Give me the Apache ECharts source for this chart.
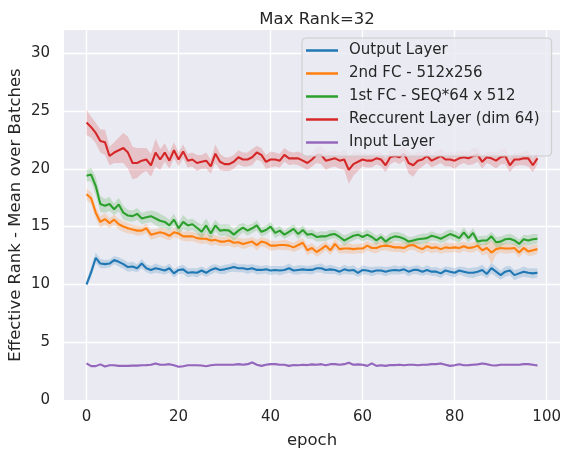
<!DOCTYPE html>
<html>
<head>
<meta charset="utf-8">
<script src="https://cdn.jsdelivr.net/npm/echarts@6/dist/echarts.min.js"></script>
<style>
  html, body { margin: 0; padding: 0; background: #fff; }
  #chart { width: 570px; height: 458px; }
</style>
</head>
<body>
<div id="chart"></div>
<script>
const epochs = [0,1,2,3,4,5,6,7,8,9,10,11,12,13,14,15,16,17,18,19,20,21,22,23,24,25,26,27,28,29,
  30,31,32,33,34,35,36,37,38,39,40,41,42,43,44,45,46,47,48,49,50,51,52,53,54,55,56,57,58,59,
  60,61,62,63,64,65,66,67,68,69,70,71,72,73,74,75,76,77,78,79,80,81,82,83,84,85,86,87,88,89,
  90,91,92,93,94,95,96,97,98];

// mean values per epoch
const outputMean = [10.0,11.05,12.3,11.8,11.75,11.8,12.1,11.95,11.75,11.5,
  11.55,11.4,11.8,11.4,11.25,11.4,11.3,11.2,11.4,10.95,
  11.25,11.3,11.0,11.05,11.0,11.2,11.0,11.25,11.4,11.25,
  11.3,11.4,11.5,11.4,11.4,11.3,11.4,11.25,11.25,11.3,
  11.2,11.25,11.2,11.25,11.4,11.2,11.25,11.3,11.25,11.25,
  11.4,11.4,11.25,11.3,11.25,11.1,11.3,11.2,11.25,11.0,
  11.25,11.2,11.1,11.2,11.2,11.1,11.2,11.25,11.2,11.3,
  11.1,11.25,11.25,11.1,11.25,11.1,11.1,10.95,11.2,11.1,
  11.0,11.2,11.1,11.0,11.0,11.1,11.25,10.9,11.4,11.1,
  10.8,11.1,11.2,10.8,10.95,11.1,11.0,10.95,11.0];
const fc2Mean = [17.8,17.45,16.2,15.4,15.65,15.3,15.6,15.2,15.0,14.85,
  14.75,14.65,14.65,14.85,14.3,14.4,14.5,14.4,14.2,14.5,
  14.4,14.15,14.15,14.15,14.0,13.95,13.95,13.8,13.85,13.7,
  13.7,13.8,13.6,13.65,13.5,13.6,13.7,13.4,13.7,13.6,
  13.35,13.35,13.4,13.4,13.35,13.2,13.4,13.6,12.95,13.15,
  12.8,13.05,13.35,12.95,13.5,13.05,13.1,13.1,13.05,13.1,
  13.1,13.35,13.15,13.15,13.3,13.35,13.3,13.2,13.2,13.15,
  13.35,13.4,13.2,13.05,13.3,13.15,13.2,13.05,13.2,13.15,
  13.2,13.15,13.3,13.15,13.2,13.35,12.95,13.15,12.75,13.05,
  13.15,13.1,13.1,13.15,12.75,13.15,12.85,12.95,13.05];
const fc1Mean = [19.4,19.5,18.5,16.95,16.8,16.95,16.5,16.9,16.2,15.95,
  15.9,16.1,15.7,15.8,15.9,15.7,15.5,15.4,15.1,15.6,
  14.85,15.4,15.1,15.2,14.9,14.55,15.1,14.4,15.1,14.65,
  14.7,14.65,14.3,14.65,14.9,14.65,14.85,15.1,14.55,14.7,
  15.0,14.45,14.65,14.3,14.55,14.8,14.35,14.7,14.3,14.35,
  14.1,14.15,14.15,14.3,14.35,14.1,13.8,14.0,14.2,14.3,
  14.1,14.3,14.1,13.8,14.1,13.7,14.0,14.15,14.1,13.95,
  13.7,13.8,13.9,13.95,14.0,14.2,14.1,13.95,14.15,14.35,
  14.2,14.0,14.5,14.0,14.45,13.7,13.8,13.8,14.15,13.65,
  13.7,13.9,13.95,13.8,13.5,13.9,13.8,13.9,13.95];
const recMean = [24.0,23.6,23.1,22.4,22.3,21.1,21.4,21.6,21.8,21.4,
  20.5,20.5,20.7,20.8,20.3,21.4,20.8,21.4,20.7,21.6,
  20.8,21.5,20.7,20.8,20.5,20.6,20.7,20.2,21.3,20.6,
  20.4,20.4,20.6,21.0,20.8,20.8,21.0,21.4,21.2,20.6,
  20.8,20.8,20.7,21.2,20.9,20.9,20.9,20.7,20.5,20.8,
  21.2,21.2,20.7,20.8,20.9,20.7,20.8,19.9,20.4,20.6,
  20.8,20.7,20.7,20.9,20.8,20.3,21.0,21.1,21.0,21.3,
  20.5,20.3,20.7,20.8,21.1,20.7,20.9,21.1,20.8,20.8,
  20.7,20.9,21.0,20.9,21.1,21.2,20.6,21.0,20.9,20.7,
  21.0,21.1,20.3,20.8,20.8,20.9,20.9,20.3,20.9];
const inputMean = [3.17,2.93,2.93,3.08,2.9,3.0,3.0,2.95,2.95,2.95,
  2.97,2.97,3.0,3.02,3.05,3.15,3.05,3.05,3.1,3.0,
  2.87,2.92,3.0,3.0,3.0,2.98,2.92,3.0,3.05,3.05,
  3.05,3.05,3.05,3.1,3.05,3.1,3.25,3.05,2.95,3.05,
  3.1,3.1,3.05,3.05,2.95,3.02,3.0,3.05,3.02,3.08,
  3.05,3.1,3.0,3.1,3.1,3.05,3.1,3.22,3.05,3.08,
  3.05,2.95,3.17,2.95,3.0,2.95,3.02,3.02,3.05,3.0,
  3.05,3.05,3.0,3.05,3.05,3.1,3.1,3.15,3.05,2.95,
  3.0,3.1,3.0,3.02,3.05,3.08,3.15,3.1,3.0,2.98,
  3.05,3.05,3.05,3.05,3.05,3.1,3.1,3.05,2.98];

// half width of the confidence band per epoch
const outputBand = [0.25,0.45,0.45,0.4,0.35,0.35,0.35,0.4,0.4,0.4,
  0.4,0.35,0.4,0.35,0.35,0.4,0.35,0.35,0.4,0.35,
  0.35,0.4,0.4,0.35,0.4,0.35,0.35,0.4,0.35,0.35,
  0.4,0.35,0.4,0.35,0.35,0.4,0.35,0.4,0.35,0.35,
  0.4,0.35,0.4,0.35,0.4,0.35,0.4,0.35,0.35,0.4,
  0.35,0.4,0.35,0.4,0.35,0.35,0.4,0.35,0.4,0.35,
  0.4,0.35,0.4,0.35,0.35,0.4,0.35,0.4,0.35,0.35,
  0.4,0.35,0.4,0.35,0.4,0.35,0.4,0.4,0.35,0.4,
  0.4,0.35,0.4,0.4,0.45,0.4,0.45,0.4,0.45,0.45,
  0.4,0.45,0.4,0.45,0.4,0.45,0.4,0.45,0.4];
const fc2Band = [0.5,0.5,0.5,0.5,0.5,0.45,0.45,0.45,0.45,0.45,
  0.4,0.45,0.4,0.4,0.45,0.4,0.4,0.45,0.4,0.4,
  0.45,0.4,0.45,0.4,0.4,0.45,0.4,0.45,0.4,0.4,
  0.4,0.45,0.4,0.4,0.45,0.4,0.4,0.45,0.4,0.4,
  0.45,0.4,0.4,0.45,0.4,0.4,0.45,0.4,0.45,0.4,
  0.4,0.45,0.4,0.4,0.45,0.4,0.4,0.45,0.4,0.4,
  0.45,0.4,0.4,0.45,0.4,0.4,0.45,0.4,0.4,0.45,
  0.4,0.4,0.45,0.4,0.4,0.45,0.4,0.4,0.45,0.4,
  0.4,0.45,0.4,0.4,0.45,0.4,0.45,0.5,1.0,0.5,
  0.4,0.45,0.4,0.4,0.45,0.4,0.4,0.45,0.4];
const fc1Band = [0.5,0.6,0.8,0.7,0.6,0.6,0.5,0.6,0.6,0.5,
  0.5,0.5,0.5,0.5,0.5,0.6,0.6,0.5,0.5,0.5,
  0.5,0.6,0.5,0.5,0.5,0.6,0.6,0.6,0.5,0.5,
  0.5,0.5,0.5,0.5,0.4,0.45,0.4,0.45,0.4,0.4,
  0.4,0.45,0.4,0.35,0.4,0.4,0.45,0.4,0.35,0.4,
  0.4,0.45,0.4,0.4,0.35,0.4,0.45,0.4,0.4,0.35,
  0.4,0.45,0.4,0.4,0.35,0.4,0.45,0.4,0.4,0.4,
  0.4,0.35,0.4,0.45,0.4,0.4,0.35,0.4,0.45,0.4,
  0.45,0.4,0.45,0.4,0.4,0.45,0.4,0.4,0.4,0.45,
  0.45,0.4,0.45,0.4,0.4,0.4,0.45,0.45,0.4];
const recBand = [1.1,0.9,0.9,1.0,1.1,0.8,0.9,1.1,1.3,1.4,
  1.4,1.3,1.1,1.0,1.0,1.2,0.9,0.8,0.7,0.7,
  0.6,0.6,0.6,0.6,0.7,0.6,0.7,0.6,0.8,0.7,
  0.6,0.6,0.6,0.6,0.6,0.6,0.7,0.6,0.6,0.6,
  0.7,0.6,0.6,0.6,0.6,0.5,0.6,0.6,0.6,0.6,
  0.7,0.8,0.8,0.7,0.7,0.7,0.9,1.2,1.0,0.8,
  0.6,0.6,0.6,0.5,0.6,0.6,0.6,0.5,0.6,0.6,
  0.9,1.0,0.8,0.6,0.6,0.6,0.6,0.6,0.6,0.6,
  0.7,0.6,0.5,0.6,0.7,0.6,0.6,0.5,0.6,0.7,
  0.6,0.7,0.6,0.6,0.5,0.6,0.7,0.6,0.5];
const inputBand = [0.08,0.08,0.07,0.08,0.08,0.07,0.08,0.08,0.08,0.07,
  0.08,0.08,0.07,0.08,0.08,0.1,0.08,0.08,0.08,0.07,
  0.08,0.08,0.07,0.08,0.08,0.08,0.07,0.08,0.08,0.08,
  0.08,0.08,0.08,0.1,0.08,0.1,0.12,0.08,0.08,0.08,
  0.08,0.08,0.07,0.08,0.08,0.08,0.08,0.07,0.08,0.08,
  0.08,0.08,0.08,0.08,0.08,0.07,0.08,0.1,0.08,0.08,
  0.08,0.08,0.1,0.08,0.08,0.07,0.08,0.08,0.08,0.08,
  0.08,0.08,0.07,0.08,0.08,0.08,0.08,0.1,0.08,0.08,
  0.08,0.08,0.07,0.08,0.08,0.08,0.1,0.08,0.08,0.08,
  0.08,0.08,0.08,0.08,0.07,0.08,0.08,0.08,0.08];

const seriesNames = ["Output Layer", "2nd FC - 512x256", "1st FC - SEQ*64 x 512", "Reccurent Layer (dim 64)", "Input Layer"];
const seriesColors = ["#1f77b4", "#ff7f0e", "#2ca02c", "#d62728", "#9467bd"];
const yTicks = [0, 5, 10, 15, 20, 25, 30];

const FONT = "DejaVu Sans";
const TEXT = "#262626";

function layerSeries(idx, mean, band) {
  const name = seriesNames[idx];
  const color = seriesColors[idx];
  return [
    {
      // confidence band drawn as one polygon through the axis scales
      name: name + " ci",
      type: "custom",
      silent: true,
      z: 2,
      data: [[epochs[0], mean[0]]],
      renderItem: (params, api) => {
        const pts = [];
        for (let i = 0; i < epochs.length; i++) {
          pts.push(api.coord([epochs[i], mean[i] + band[i]]));
        }
        for (let i = epochs.length - 1; i >= 0; i--) {
          pts.push(api.coord([epochs[i], mean[i] - band[i]]));
        }
        return {
          type: "polygon",
          shape: { points: pts },
          style: { fill: color, opacity: 0.2 },
        };
      },
    },
    {
      name: name,
      type: "line",
      data: epochs.map((e, i) => [e, mean[i]]),
      showSymbol: false,
      itemStyle: { color: color },
      lineStyle: { color: color, width: 2.1 },
      z: 3,
    },
  ];
}

const chart = echarts.init(document.getElementById("chart"), null, { renderer: "canvas" });

const option = {
  animation: false,
  backgroundColor: "#ffffff",
  textStyle: { fontFamily: FONT },
  title: {
    text: "Max Rank=32",
    left: 312,
    top: 6,
    textAlign: "center",
    textStyle: { fontFamily: FONT, fontSize: 16.5, fontWeight: "normal", color: TEXT },
  },
  grid: {
    left: 64,
    right: 10,
    top: 30,
    bottom: 58,
    containLabel: false,
    outerBoundsMode: "none",
    show: true,
    backgroundColor: "#eaeaf2",
    borderWidth: 0,
  },
  legend: {
    data: seriesNames,
    orient: "vertical",
    left: 302,
    top: 38,
    icon: "rect",
    itemWidth: 32,
    itemHeight: 2.5,
    itemGap: 8,
    padding: [5, 12, 6, 4],
    backgroundColor: "rgba(234,234,242,0.8)",
    borderColor: "#cccccc",
    borderWidth: 1,
    borderRadius: 4,
    textStyle: { fontFamily: FONT, fontSize: 15, color: TEXT, padding: [0, 0, 0, 6] },
  },
  xAxis: {
    type: "value",
    min: -4.9,
    max: 102.9,
    name: "epoch",
    nameLocation: "middle",
    nameGap: 32,
    nameMoveOverlap: false,
    nameTextStyle: { fontFamily: FONT, fontSize: 16.5, color: TEXT },
    axisLine: { show: false },
    axisTick: { show: false },
    axisLabel: { fontFamily: FONT, fontSize: 15, color: TEXT, margin: 10, showMinLabel: false, showMaxLabel: false },
    splitLine: { show: true, showMinLine: false, showMaxLine: false, lineStyle: { color: "#ffffff", width: 1.3 } },
  },
  yAxis: {
    type: "value",
    min: 0,
    max: 32,
    interval: 5,
    name: "Effective Rank - Mean over Batches",
    nameLocation: "middle",
    nameGap: 40,
    nameMoveOverlap: false,
    nameTextStyle: { fontFamily: FONT, fontSize: 16.5, color: TEXT },
    axisLine: { show: false },
    axisTick: { show: false },
    axisLabel: {
      fontFamily: FONT, fontSize: 15, color: TEXT, margin: 14, showMaxLabel: false,
      formatter: (v) => (yTicks.indexOf(v) >= 0 ? String(v) : ""),
    },
    splitLine: { show: true, showMinLine: false, showMaxLine: false, lineStyle: { color: "#ffffff", width: 1.3 } },
  },
  series: [
    ...layerSeries(0, outputMean, outputBand),
    ...layerSeries(1, fc2Mean, fc2Band),
    ...layerSeries(2, fc1Mean, fc1Band),
    ...layerSeries(3, recMean, recBand),
    ...layerSeries(4, inputMean, inputBand),
  ],
};

chart.setOption(option);
</script>
</body>
</html>
